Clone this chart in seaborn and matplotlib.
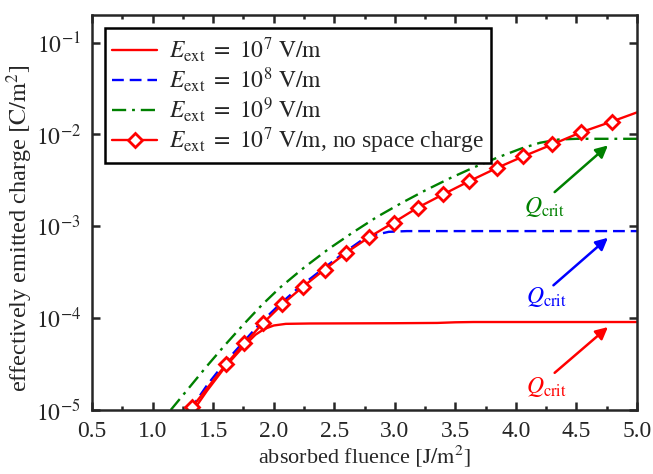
import numpy as np
import pandas as pd
import matplotlib
matplotlib.use("Agg")
import matplotlib.pyplot as plt
import seaborn as sns
from matplotlib.ticker import FixedLocator, FixedFormatter, NullLocator, MultipleLocator

# ---- data ----
x_e7 = [1.34, 1.45, 1.60, 1.75, 1.85, 1.92, 2.00, 2.10, 2.30, 3.00, 3.35, 3.50, 3.65, 5.00]
logy_e7 = [-5.0, -4.79, -4.53, -4.31, -4.18, -4.12, -4.08, -4.062, -4.058, -4.055, -4.052, -4.045, -4.042, -4.042]

x_e8 = [1.31, 1.45, 1.60, 1.75, 1.90, 2.05, 2.20, 2.40, 2.60, 2.75, 2.85, 2.95, 3.10, 5.00]
logy_e8 = [-5.0, -4.73, -4.48, -4.26, -4.04, -3.85, -3.675, -3.47, -3.27, -3.13, -3.09, -3.06, -3.052, -3.052]

x_e9 = [1.15, 1.30, 1.45, 1.60, 1.75, 1.90, 2.05, 2.25, 2.45, 2.65, 2.85, 3.05, 3.25, 3.45, 3.65, 3.85, 4.05, 4.20, 4.35, 4.50, 5.00]
logy_e9 = [-5.0, -4.76, -4.52, -4.29, -4.07, -3.86, -3.67, -3.45, -3.25, -3.07, -2.90, -2.75, -2.61, -2.48, -2.36, -2.25, -2.15, -2.09, -2.055, -2.047, -2.047]

x_nosc = [1.326, 1.608, 1.757, 1.91, 2.07, 2.24, 2.42, 2.60, 2.79, 2.99, 3.19, 3.40, 3.61, 3.84, 4.06, 4.30, 4.54, 4.79]
y_nosc = [1.07e-5, 3.16e-5, 5.3e-5, 8.76e-5, 1.41e-4, 2.19e-4, 3.38e-4, 5.18e-4, 7.65e-4, 1.1e-3,
          1.6e-3, 2.23e-3, 3.08e-3, 4.3e-3, 5.77e-3, 7.79e-3, 1.06e-2, 1.38e-2]
x_nosc_end = [4.79, 5.0]
y_nosc_end = [1.38e-2, 1.74e-2]

labels = [r'$E_{\rm ext}\ =\ 10^7\ \mathrm{V/m}$',
          r'$E_{\rm ext}\ =\ 10^8\ \mathrm{V/m}$',
          r'$E_{\rm ext}\ =\ 10^9\ \mathrm{V/m}$',
          r'$E_{\rm ext}\ =\ 10^7\ \mathrm{V/m}$, no space charge']

xticks = [0.5, 1.0, 1.5, 2.0, 2.5, 3.0, 3.5, 4.0, 4.5, 5.0]
xticklabels = ['0.5', '1.0', '1.5', '2.0', '2.5', '3.0', '3.5', '4.0', '4.5', '5.0']
yticks = [1e-5, 1e-4, 1e-3, 1e-2, 1e-1]
yticklabels = [r'$10^{-5}$', r'$10^{-4}$', r'$10^{-3}$', r'$10^{-2}$', r'$10^{-1}$']

# annotations: (text x, text y), (tail x, tail y), (head x, head y), color
qcrit_text = [(4.25, 1.8e-5), (4.25, 1.7e-4), (4.24, 1.62e-3)]
qcrit_tail = [(4.32, 2.54e-5), (4.31, 2.28e-4), (4.32, 2.36e-3)]
qcrit_head = [(4.76, 8.0e-5), (4.76, 7.5e-4), (4.76, 7.6e-3)]
qcrit_color = ['#ff0000', '#0000ff', '#008000']

# ---- style ----
sns.set_style("ticks")
plt.rcParams['font.family'] = ['Liberation Serif', 'DejaVu Serif']
plt.rcParams['mathtext.fontset'] = 'stix'
plt.rcParams['axes.linewidth'] = 1.8

fig = plt.figure(figsize=(6.53, 4.74), dpi=100)
ax = fig.add_axes([92/653, 1-410/474, (637-92)/653, (410-15)/474])

df7 = pd.DataFrame({'x': x_e7, 'y': 10**np.array(logy_e7)})
df8 = pd.DataFrame({'x': x_e8, 'y': 10**np.array(logy_e8)})
df9 = pd.DataFrame({'x': x_e9, 'y': 10**np.array(logy_e9)})
dfn = pd.DataFrame({'x': x_nosc, 'y': y_nosc})
dfe = pd.DataFrame({'x': x_nosc_end, 'y': y_nosc_end})

lw = 1.7
sns.lineplot(data=df7, x='x', y='y', ax=ax, color='#ff0000', lw=lw, label=labels[0])
sns.lineplot(data=df8, x='x', y='y', ax=ax, color='#0000ff', lw=lw, label=labels[1])
ax.lines[-1].set_dashes((5, 2.5))
sns.lineplot(data=df9, x='x', y='y', ax=ax, color='#008000', lw=lw, label=labels[2])
ax.lines[-1].set_dashes((6, 2.5, 1.2, 2.5))
sns.lineplot(data=dfe, x='x', y='y', ax=ax, color='#ff0000', lw=lw, legend=False)
sns.lineplot(data=dfn, x='x', y='y', ax=ax, color='#ff0000', lw=lw, marker='D',
             markersize=7, markerfacecolor='white', markeredgecolor='#ff0000',
             markeredgewidth=2.0, label=labels[3])

ax.set_yscale('log')
ax.set_xlim(0.5, 5.0)
ax.set_ylim(1e-5, 0.2)
ax.xaxis.set_major_locator(FixedLocator(xticks))
ax.xaxis.set_major_formatter(FixedFormatter(xticklabels))
ax.xaxis.set_minor_locator(MultipleLocator(0.25))
ax.yaxis.set_major_locator(FixedLocator(yticks))
ax.yaxis.set_major_formatter(FixedFormatter(yticklabels))
ax.yaxis.set_minor_locator(NullLocator())
ax.tick_params(which='both', direction='in', top=True, right=True, labelsize=17, pad=8)
ax.tick_params(which='major', length=6, width=1.8)
ax.tick_params(which='minor', length=3, width=1.8)

ax.set_xlabel(r'absorbed fluence $[\mathrm{J/m}^2]$', fontsize=16, labelpad=1)
ax.set_ylabel(r'effectively emitted charge $[\mathrm{C/m}^2]$', fontsize=17.5)
ax.yaxis.set_label_coords(-0.104, 0.46)

for (tx, ty), (sx, sy), (hx, hy), c in zip(qcrit_text, qcrit_tail, qcrit_head, qcrit_color):
    ax.annotate('', xy=(hx, hy), xytext=(sx, sy),
                arrowprops=dict(arrowstyle='-|>', color=c, lw=1.8, mutation_scale=18,
                                shrinkA=0, shrinkB=0))
    ax.text(tx, ty, r'$Q_{\rm crit}$', color=c, fontsize=17, ha='center', va='center')

leg = ax.legend(loc='upper left', bbox_to_anchor=(0.024, 0.967), borderaxespad=0,
                fontsize=17, frameon=True, fancybox=False, framealpha=1,
                edgecolor='black', handlelength=1.9, handletextpad=0.5,
                labelspacing=0.05, borderpad=0.3)
leg.get_frame().set_linewidth(1.8)

fig.savefig('out.png', dpi=100)
